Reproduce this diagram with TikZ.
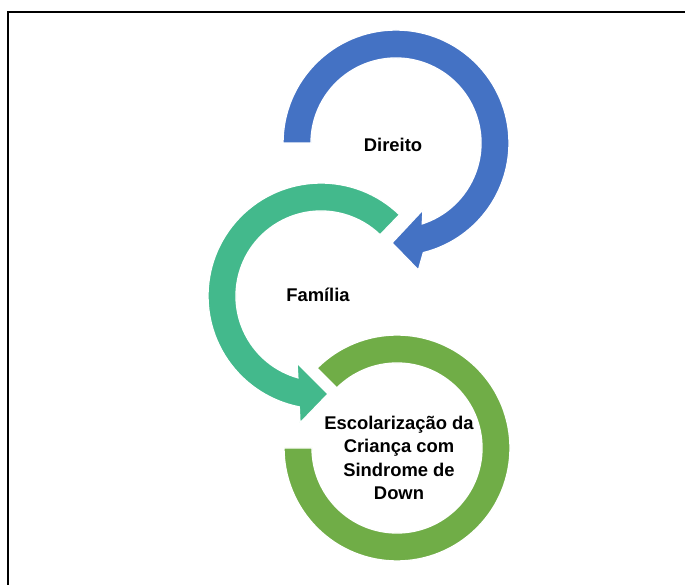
\documentclass[tikz,border=0pt]{standalone}
\usepackage{fontspec}
\setmainfont{Liberation Sans}
\definecolor{azul}{HTML}{4472C4}
\definecolor{verdeagua}{HTML}{43B98C}
\definecolor{verde}{HTML}{70AD47}
\begin{document}
\begin{tikzpicture}[x=0.75pt,y=0.75pt,
	seta/.style={draw=white,line width=1pt},
	rotulo/.style={font=\fontsize{13.8}{17.6}\selectfont\bfseries,align=center}]
			\useasboundingbox (0,0) rectangle (685,585);
			
			% Moldura (so topo e lado esquerdo)
			\draw[line width=1.8pt] (8,0) -- (8,573) -- (685,573);
			
			% Anel verde, sem ponta
			\begin{scope}[shift={(397,137)}]
				\path[fill=verde,seta] (135:113) arc[start angle=135,end angle=-180,radius=113]
				-- (180:85) arc[start angle=-180,end angle=135,radius=85] -- cycle;
			\end{scope}
			
			% Seta verde-agua
			\begin{scope}[shift={(321,289)}]
				\path[fill=verdeagua,seta] (46:113) arc[start angle=46,end angle=258.9,radius=113]
				-- (260.6:128.7) -- (274.1:98.2) -- (250.3:71.2)
				-- (254.2:85) arc[start angle=254.2,end angle=46,radius=85] -- cycle;
			\end{scope}
			
			% Seta azul
			\begin{scope}[shift={(396,442)}]
				\path[fill=azul,seta] (180:113) arc[start angle=180,end angle=-76,radius=113]
				-- (-80:129) -- (-92.3:100) -- (-68:72)
				-- (-72:85) arc[start angle=-72,end angle=180,radius=85] -- cycle;
			\end{scope}
			
			\node[rotulo] (direito) at (393,440) {Direito};
			\node[rotulo] (familia) at (318,290) {Família};
			\node[rotulo] (escola) at (399,127) {Escolarização da\\Criança com\\Sindrome de\\Down};
	\end{tikzpicture}
\end{document}
